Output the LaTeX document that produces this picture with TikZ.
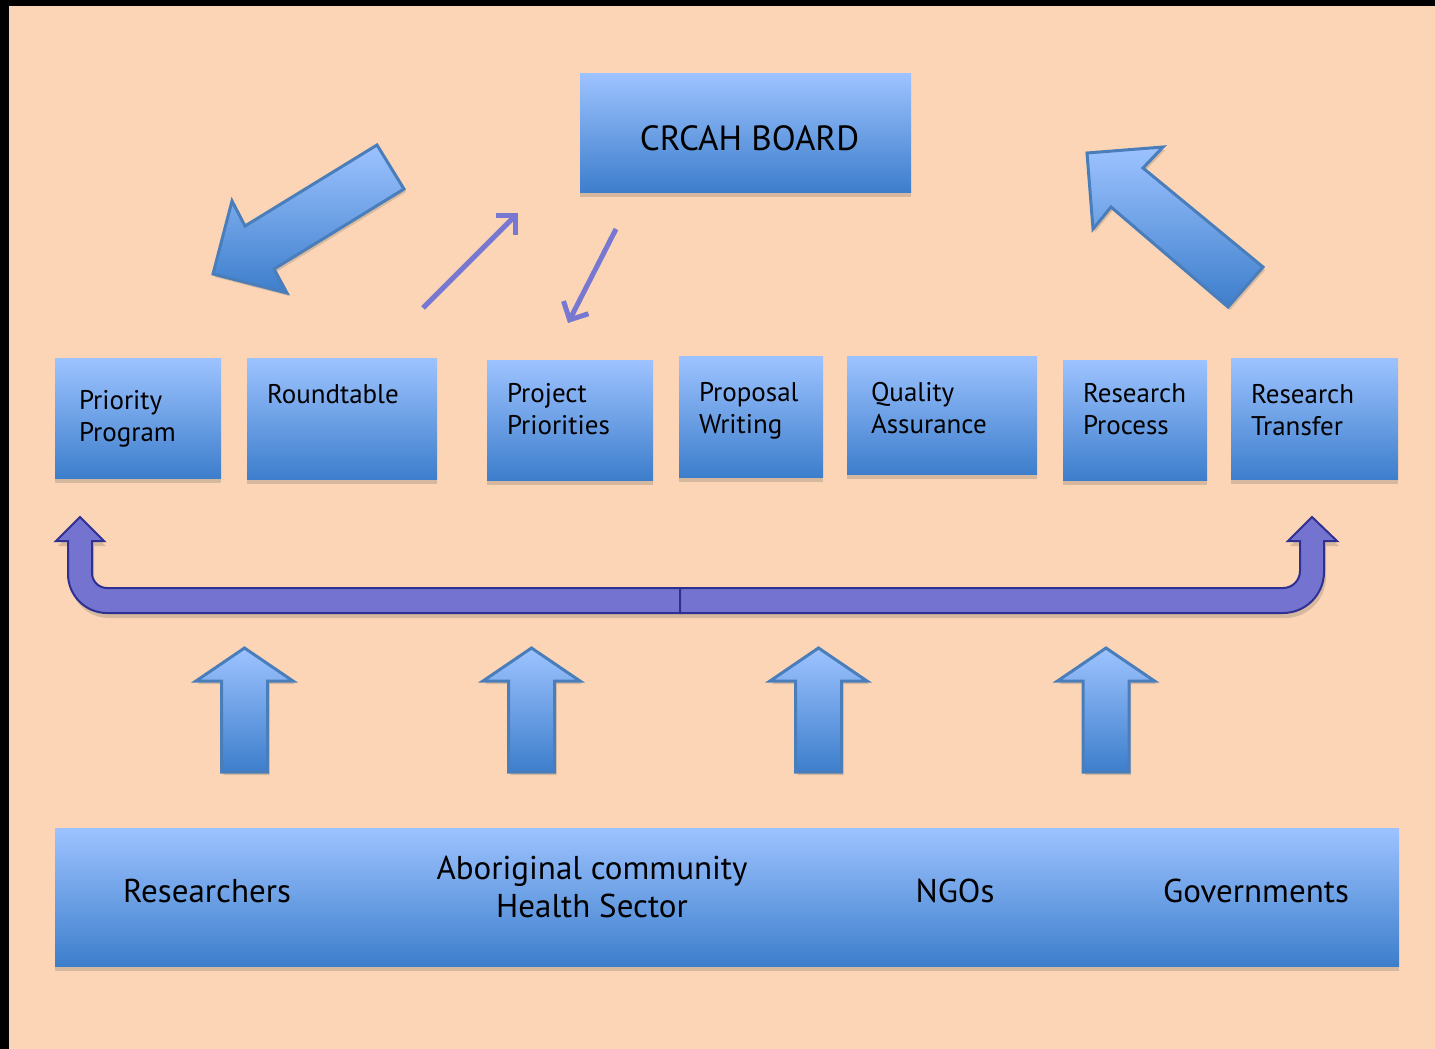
\documentclass[tikz,border=0pt]{standalone}
\usepackage{fontspec}
\setmainfont{PT Sans}
\usetikzlibrary{arrows.meta,shadows}

\definecolor{peach}{HTML}{FBD5B5}
\definecolor{boxtop}{HTML}{9DC3FF}
\definecolor{boxbot}{HTML}{3D7ECC}
\definecolor{arrowline}{HTML}{4A7EBB}
\definecolor{shadowtan}{HTML}{D6B89E}
\definecolor{ubarfill}{HTML}{7474D0}
\definecolor{ubarline}{HTML}{2E3192}
\definecolor{thinline}{HTML}{7878D2}

\tikzset{
  bluebox/.style={rectangle, inner sep=0pt, top color=boxtop, bottom color=boxbot,
    drop shadow={shadow xshift=0pt, shadow yshift=-2.5pt, fill=shadowtan, opacity=1}},
  boxlabel/.style={anchor=north west, align=left, inner sep=0pt, xshift=10pt, yshift=-13pt,
    font=\fontsize{13.5}{16}\selectfont},
  basetext/.style={align=center, inner sep=0pt, font=\fontsize{16.5}{19}\selectfont},
  bigarrow/.style={top color=boxtop, bottom color=boxbot, draw=arrowline, line width=1.5pt,
    line join=miter,
    drop shadow={shadow xshift=1pt, shadow yshift=-1.5pt, fill=shadowtan, opacity=1}},
  ubar/.style={fill=ubarfill, draw=ubarline, line width=1pt,
    drop shadow={shadow xshift=1pt, shadow yshift=-2.5pt, fill=shadowtan, opacity=1}},
  thinarrow/.style={draw=thinline, line width=2.5pt, -{Straight Barb[length=7pt,width=14pt]}}
}

\begin{document}
\begin{tikzpicture}[x=0.5pt, y=-0.5pt]
    % background and frame
    \useasboundingbox (0,0) rectangle (1435,1049);
    \fill[black] (0,0) rectangle (1435,1049);
    \fill[peach] (9,6) rectangle (1435,1049);

    % board
    \node[bluebox, minimum width=165.5pt, minimum height=59.5pt, text height=17.5pt, text depth=0pt,
      font=\fontsize{17.5}{20}\selectfont] (board) at (745.5,132.5) {\hspace*{4pt}CRCAH BOARD};

    % big arrows
    \draw[bigarrow] (377,145) -- (404,189) -- (274,269) -- (287,293) -- (213,274)
      -- (232,201) -- (245,226) -- cycle;
    \draw[bigarrow] (1087,153) -- (1163,147) -- (1143,168) -- (1263,267) -- (1228,307)
      -- (1111,207) -- (1093,229) -- cycle;

    % thin arrows
    \coordinate (upfrom) at (423,308);
    \coordinate (upto) at (518,213);
    \coordinate (downfrom) at (616,229);
    \coordinate (downto) at (568,323);
    \draw[thinarrow] (upfrom) -- (upto);
    \draw[thinarrow] (downfrom) -- (downto);

    % middle row of boxes
    \node[bluebox, minimum width=83pt, minimum height=60pt,
      label={[boxlabel, xshift=2pt, yshift=-3pt]north west:{Priority\\Program}}] (priority) at (138,418) {};
    \node[bluebox, minimum width=95pt, minimum height=60.5pt,
      label={[boxlabel]north west:{Roundtable}}] (roundtable) at (342,418.5) {};
    \node[bluebox, minimum width=83pt, minimum height=60pt,
      label={[boxlabel, yshift=1.5pt]north west:{Project\\Priorities}}] (project) at (570,420) {};
    \node[bluebox, minimum width=72pt, minimum height=60.5pt,
      label={[boxlabel]north west:{Proposal\\Writing}}] (proposal) at (751,416.5) {};
    \node[bluebox, minimum width=95pt, minimum height=59pt,
      label={[boxlabel, xshift=2pt]north west:{Quality\\Assurance}}] (quality) at (942,415) {};
    \node[bluebox, minimum width=72pt, minimum height=60pt,
      label={[boxlabel, yshift=1.5pt]north west:{Research\\Process}}] (process) at (1135,420) {};
    \node[bluebox, minimum width=83.5pt, minimum height=60.5pt,
      label={[boxlabel]north west:{Research\\Transfer}}] (transfer) at (1314.5,418.5) {};

    % u-shaped arrow, two halves
    \draw[ubar] (680,588) -- (107,588) .. controls (98.7,588) and (92,581.3) .. (92,573)
      -- (92,541) -- (104,541) -- (80,517) -- (56,541) -- (68,541) -- (68,574)
      .. controls (68,595.5) and (85.5,613) .. (107,613) -- (680,613) -- cycle;
    \draw[ubar] (680,588) -- (1283,588) .. controls (1292.4,588) and (1300,580.4) .. (1300,571)
      -- (1300,541) -- (1288,541) -- (1312,517) -- (1337,541) -- (1324,541) -- (1324,572)
      .. controls (1324,594.6) and (1305.6,613) .. (1283,613) -- (680,613) -- cycle;

    % up arrows
    \foreach \x in {244.5,531.5,818.5,1106}
      \draw[bigarrow] (\x,648) -- (\x+48.5,681) -- (\x+23,681) -- (\x+23,772)
        -- (\x-23,772) -- (\x-23,681) -- (\x-48.5,681) -- cycle;

    % bottom box
    \node[bluebox, minimum width=672pt, minimum height=69pt] (base) at (727,897) {};
    \node[basetext] (researchers) at (207,891) {Researchers};
    \node[basetext] (aboriginal) at (592,887) {Aboriginal community\\Health Sector};
    \node[basetext] (ngos) at (955,891) {NGOs};
    \node[basetext] (governments) at (1256,891) {Governments};
  \end{tikzpicture}
\end{document}
